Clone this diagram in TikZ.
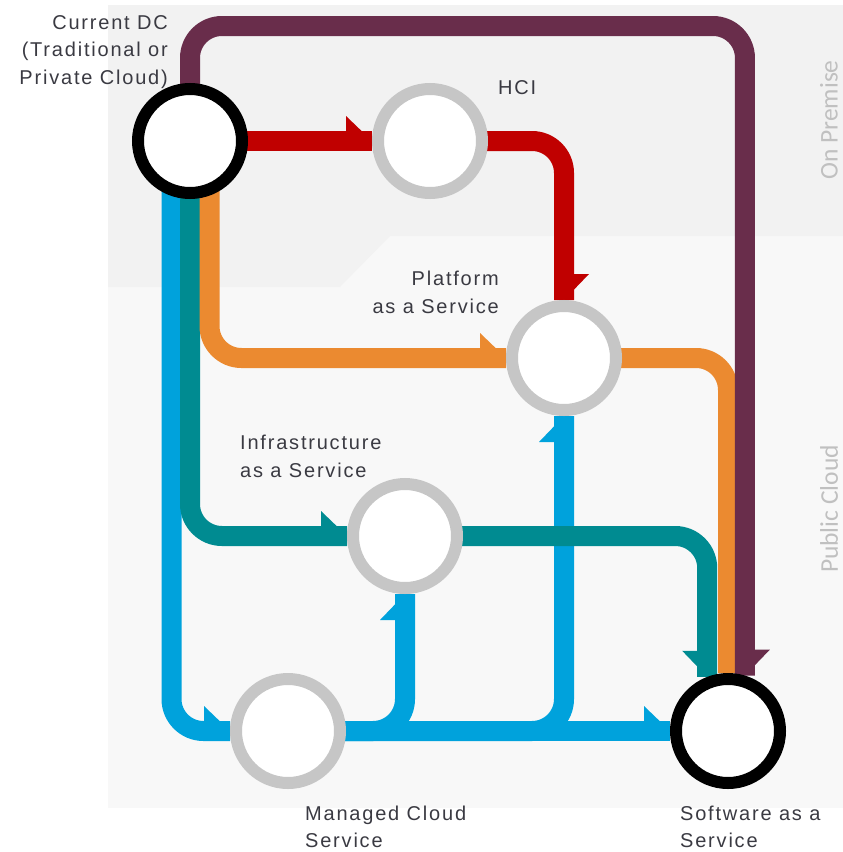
\documentclass[tikz,border=0pt]{standalone}
\usepackage{fontspec}
\setmainfont{Liberation Sans}[LetterSpace=9]
\newfontfamily\zonefont{Carlito}
\usetikzlibrary{arrows.meta,decorations.markings}

\definecolor{txtgray}{RGB}{58,58,66}
\definecolor{zonegray}{RGB}{192,192,192}
\definecolor{ringgray}{RGB}{198,198,198}
\definecolor{onprem}{RGB}{242,242,242}
\definecolor{cloudzone}{RGB}{248,248,248}
\definecolor{cplum}{RGB}{105,45,75}
\definecolor{cred}{RGB}{192,0,0}
\definecolor{corange}{RGB}{235,138,48}
\definecolor{cteal}{RGB}{0,139,145}
\definecolor{cblue}{RGB}{0,162,220}

\pgfdeclarelayer{zones}
\pgfdeclarelayer{routes}
\pgfsetlayers{zones,routes,main}

\tikzset{
  station/.style={circle, draw=ringgray, fill=white, line width=12pt,
    minimum size=104pt, inner sep=0pt},
  hub/.style={station, draw=black},
  route/.style={line width=20pt, rounded corners=32pt},
  headl/.style={postaction={decorate, decoration={markings,
    mark=at position 1 with {\arrow{Triangle[left,length=26pt,width=50pt,line width=0pt]}}}}},
  headr/.style={postaction={decorate, decoration={markings,
    mark=at position 1 with {\arrow{Triangle[right,length=26pt,width=50pt,line width=0pt]}}}}},
  lbl/.style={text=txtgray, font=\fontsize{20}{27.5}\selectfont, inner sep=0pt},
  lowlbl/.style={lbl, font=\fontsize{20}{27}\selectfont},
  zonelbl/.style={text=zonegray, font=\zonefont\fontsize{25.5}{30}\selectfont,
    rotate=90, inner sep=0pt}
}

\begin{document}
\begin{tikzpicture}[x=1pt, y=-1pt]
\useasboundingbox (0,0) rectangle (843,852);

% zones
\begin{pgfonlayer}{zones}
  \fill[cloudzone] (108,236) rectangle (843,808);
  \fill[onprem] (108,5) -- (843,5) -- (843,236) -- (390,236) -- (340,287)
    -- (108,287) -- cycle;
\end{pgfonlayer}
\node[zonelbl] (onp) at (829,120) {On Premise};
\node[zonelbl] (pubc) at (829,509) {Public Cloud};

% stations
\node[hub] (dc) at (190,141) {};
\node[station] (hci) at (430,141) {};
\node[station] (paas) at (564,358) {};
\node[station] (iaas) at (405,536) {};
\node[station] (mcs) at (288,731) {};
\node[hub] (saas) at (728,731) {};

% labels
\node[lbl, anchor=north east, align=right] (dclbl) at (168,15)
  {Current DC\\(Traditional or\\Private Cloud)};
\node[lbl, anchor=west] (hcilbl) at (498,88) {HCI};
\node[lbl, anchor=north east, align=right] (paaslbl) at (499,271)
  {Platform\\as a Service};
\node[lbl, anchor=north west, align=left] (iaaslbl) at (240,435)
  {Infrastructure\\as a Service};
\node[lowlbl, anchor=north west, align=left] (mcslbl) at (305,806)
  {Managed Cloud\\Service};
\node[lowlbl, anchor=north west, align=left] (saaslbl) at (680,806)
  {Software as a\\Service};

\coordinate (ridge) at (0,26);

% routes
\begin{pgfonlayer}{routes}
  % blue line
  \draw[route, cblue, headl] ([xshift=-18.5pt]dc.center) |- (mcs.west);
  \draw[route, cblue, headl] (mcs.center) -- (saas.west);
  \draw[route, cblue, headl] (mcs.center) -| (iaas.south);
  \draw[route, cblue, headl] (mcs.center) -| (paas.south);
  % teal line
  \draw[route, cteal, headl] (dc.center) |- (iaas.west);
  \draw[route, cteal, headr] (iaas.center) -| (saas.111);
  % orange line
  \draw[route, corange, headl] ([xshift=19.5pt]dc.center) |- (paas.west);
  \draw[route, corange] (paas.center) -| (saas.north);
  % red line
  \draw[route, cred, headl] (dc.center) -- (hci.west);
  \draw[route, cred, headl] (hci.center) -| (paas.north);
  % plum line
  \draw[route, cplum, headl] (dc.center) -- (dc.center |- ridge) -| (saas.73);
\end{pgfonlayer}
\end{tikzpicture}
\end{document}
